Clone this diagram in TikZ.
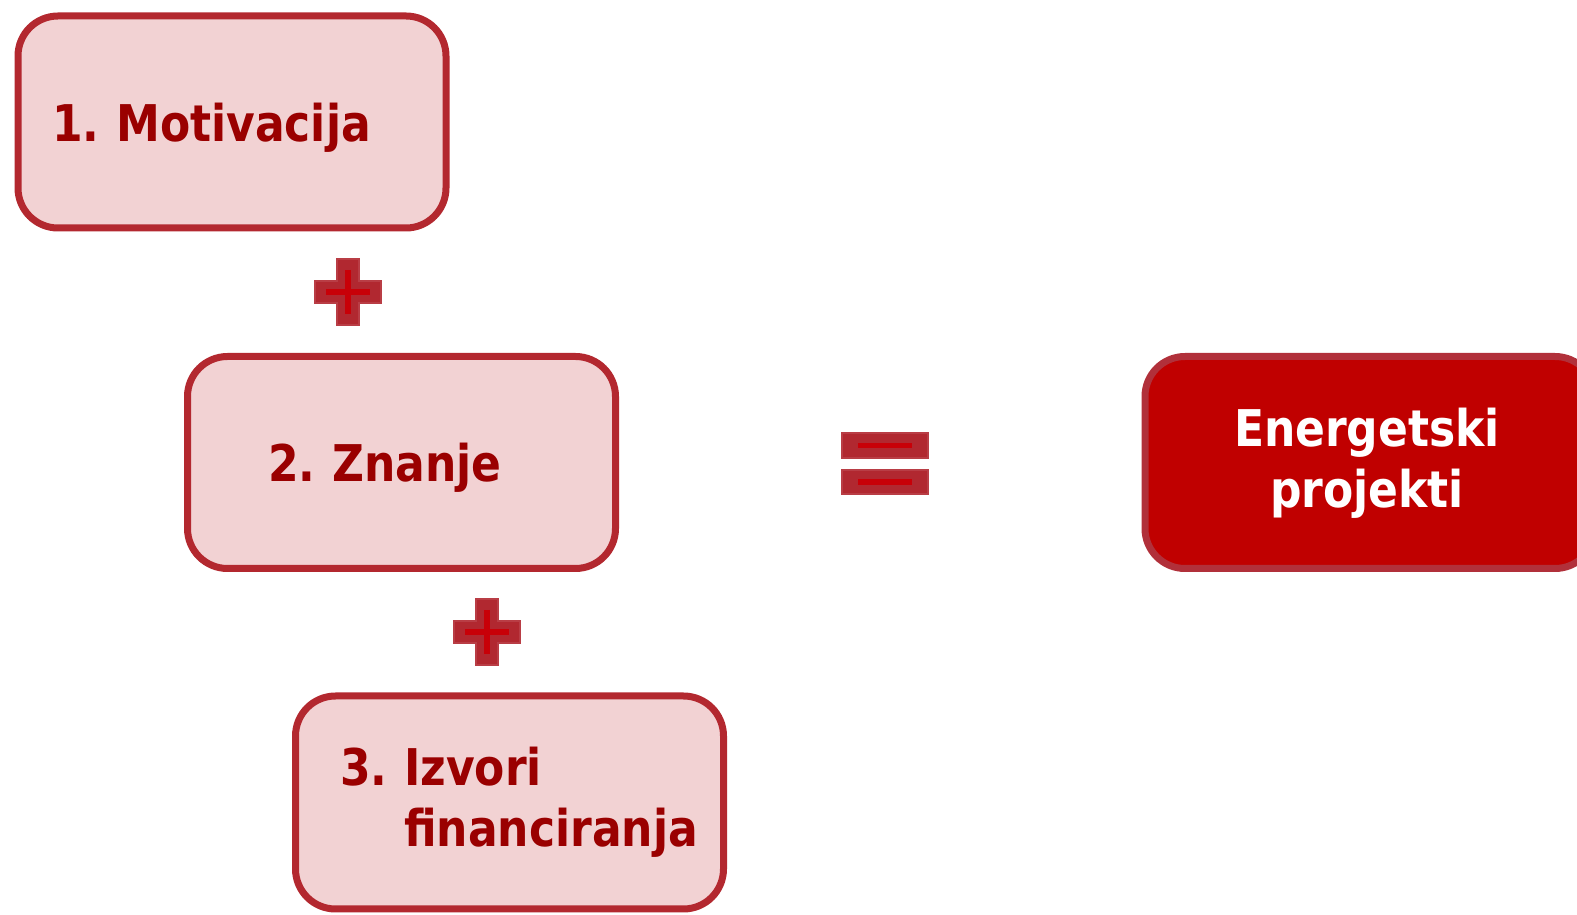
\documentclass[tikz,border=0pt]{standalone}
\usepackage{fontspec}
\newfontfamily\stepfont[FakeStretch=0.87]{DejaVu Sans Bold}
\usetikzlibrary{positioning}
\definecolor{boxfill}{HTML}{F2D2D3}
\definecolor{boxline}{HTML}{B3282F}
\definecolor{boxtext}{HTML}{9A0000}
\definecolor{resfill}{HTML}{C00000}
\definecolor{resline}{HTML}{B1303A}
\definecolor{signfill}{HTML}{B12830}
\definecolor{signcore}{HTML}{C80008}
\tikzset{
  step box/.style={rectangle,rounded corners=4mm,draw=boxline,fill=boxfill,line width=0.7mm,
    minimum width=42.8mm,minimum height=21.2mm,inner sep=0pt,align=left,text depth=0pt,
    font=\stepfont\fontsize{14.4}{17.3}\selectfont\frenchspacing,text=boxtext},
  result box/.style={step box,draw=resline,fill=resfill,text=white,align=center},
  sign bar/.style={fill=signfill,draw=signfill!90!white,line width=0.2mm},
  sign core/.style={draw=signcore,line width=0.55mm},
}

\begin{document}
\begin{tikzpicture}[x=0.1mm,y=-0.1mm]
  \useasboundingbox (0,0) rectangle (1577,915);
  \node[step box,text width=36mm] (motiv) at (232,122) {1. Motivacija};
  \node[step box,text width=26.7mm] (znanje) at (401.5,462.5) {2. Znanje};
  \node[step box,text width=33.9mm,minimum height=21.3mm,text depth=4.5pt] (izvori) at (509.5,802.5) {%
    \begin{tabular}[b]{@{}l@{ }l@{}}3. & Izvori\\ & financiranja\end{tabular}};
  \node[result box,text width=38mm,minimum width=45mm,text depth=4pt] (projekti) at (1370,462.5) {%
    \hspace*{-0.6mm}\begin{tabular}[b]{@{}c@{}}Energetski\\projekti\end{tabular}};
  % plus signs
  \coordinate (plus1) at (348,292);
  \coordinate (plus2) at (487,632);
  \foreach \p in {plus1,plus2} {
    \begin{scope}[shift={(\p)}]
      \draw[sign bar] (-11,-33) -- (11,-33) -- (11,-11) -- (33,-11) -- (33,11) -- (11,11)
        -- (11,33) -- (-11,33) -- (-11,11) -- (-33,11) -- (-33,-11) -- (-11,-11) -- cycle;
      \draw[sign core] (-22,0) -- (22,0) (0,-22) -- (0,22);
    \end{scope}
  }
  % equals sign
  \coordinate (eq) at (885,463.5);
  \begin{scope}[shift={(eq)}]
    \draw[sign bar] (-43,-30.5) rectangle (43,-5.5);
    \draw[sign bar] (-43,6.5) rectangle (43,30.5);
    \draw[sign core] (-27,-18) -- (27,-18) (-27,18.5) -- (27,18.5);
  \end{scope}
\end{tikzpicture}
\end{document}
